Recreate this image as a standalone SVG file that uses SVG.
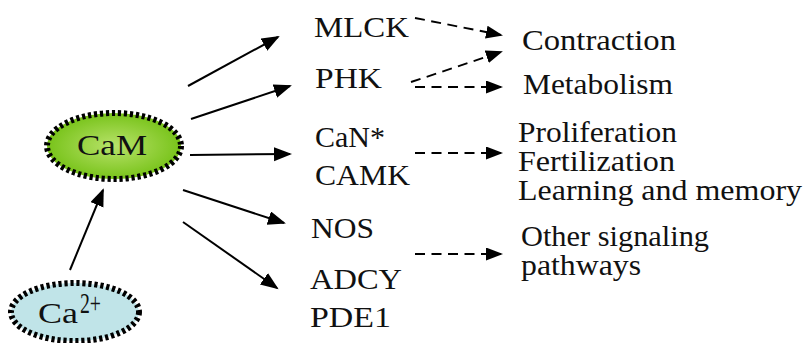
<svg xmlns="http://www.w3.org/2000/svg" width="805" height="343" viewBox="0 0 805 343">
  <style>
    .lbl { font-family: "Liberation Serif", "Times New Roman", serif; font-size: 29px; fill: #111; }
    .solid { stroke: #000; stroke-width: 2; fill: none; marker-end: url(#headSolid); }
    .dash { stroke: #000; stroke-width: 1.9; fill: none; stroke-dasharray: 10 6.5; marker-end: url(#headDash); }
    .ring { stroke: #000; stroke-width: 6; stroke-dasharray: 3.2 2.8; }
  </style>
  <defs>
    <radialGradient id="camFill" cx="50%" cy="50%" r="50%">
      <stop offset="0" stop-color="#b8e26a"/>
      <stop offset="1" stop-color="#78c31a"/>
    </radialGradient>
    <marker id="headSolid" markerUnits="userSpaceOnUse" markerWidth="20" markerHeight="16" refX="16" refY="7" orient="auto">
      <path d="M0,0 L18,7 L0,14 Z" fill="#000"/>
    </marker>
    <marker id="headDash" markerUnits="userSpaceOnUse" markerWidth="20" markerHeight="16" refX="15" refY="6.5" orient="auto">
      <path d="M0,0 L17,6.5 L0,13 Z" fill="#000"/>
    </marker>
  </defs>

  <!-- connectors -->
  <g id="connectors">
    <line class="solid" x1="70" y1="270" x2="103" y2="190"/>
    <line class="solid" x1="188" y1="86" x2="278" y2="37"/>
    <line class="solid" x1="191" y1="119" x2="290" y2="86"/>
    <line class="solid" x1="190" y1="155" x2="290" y2="154"/>
    <line class="solid" x1="183" y1="190" x2="284" y2="223"/>
    <line class="solid" x1="183" y1="222" x2="277" y2="288"/>

    <line class="dash" x1="415" y1="18" x2="501" y2="35"/>
    <line class="dash" x1="411" y1="82" x2="501" y2="52"/>
    <line class="dash" x1="415" y1="87" x2="501" y2="87"/>
    <line class="dash" x1="415" y1="153" x2="501" y2="153"/>
    <line class="dash" x1="415" y1="254" x2="501" y2="254"/>
  </g>

  <!-- source ion -->
  <g id="ca">
    <ellipse class="ring" cx="75" cy="312" rx="64" ry="29" fill="#c0e4e8"/>
    <text class="lbl" x="38" y="323" font-size="31" textLength="40" lengthAdjust="spacingAndGlyphs">Ca</text>
    <text class="lbl" x="80" y="313" font-size="20" textLength="21" lengthAdjust="spacingAndGlyphs">2+</text>
  </g>

  <!-- calmodulin -->
  <g id="cam">
    <ellipse class="ring" cx="114" cy="146" rx="67" ry="33" fill="url(#camFill)"/>
    <text class="lbl" x="77" y="155" font-size="31" textLength="70" lengthAdjust="spacingAndGlyphs">CaM</text>
  </g>

  <!-- targets -->
  <g id="mlck"><text class="lbl" x="314" y="37" textLength="95" lengthAdjust="spacingAndGlyphs">MLCK</text></g>
  <g id="phk"><text class="lbl" x="315" y="88" textLength="67" lengthAdjust="spacingAndGlyphs">PHK</text></g>
  <g id="can-camk">
    <text class="lbl" x="315" y="147" textLength="70" lengthAdjust="spacingAndGlyphs">CaN*</text>
    <text class="lbl" x="315" y="185" textLength="95" lengthAdjust="spacingAndGlyphs">CAMK</text>
  </g>
  <g id="nos"><text class="lbl" x="311" y="238" textLength="63" lengthAdjust="spacingAndGlyphs">NOS</text></g>
  <g id="adcy-pde1">
    <text class="lbl" x="310" y="289" textLength="92" lengthAdjust="spacingAndGlyphs">ADCY</text>
    <text class="lbl" x="310" y="327" textLength="81" lengthAdjust="spacingAndGlyphs">PDE1</text>
  </g>

  <!-- outcomes -->
  <g id="contraction"><text class="lbl" x="522" y="50" textLength="154" lengthAdjust="spacingAndGlyphs">Contraction</text></g>
  <g id="metabolism"><text class="lbl" x="523" y="94" textLength="150" lengthAdjust="spacingAndGlyphs">Metabolism</text></g>
  <g id="cell-functions">
    <text class="lbl" x="518" y="142" textLength="159" lengthAdjust="spacingAndGlyphs">Proliferation</text>
    <text class="lbl" x="518" y="171" textLength="157" lengthAdjust="spacingAndGlyphs">Fertilization</text>
    <text class="lbl" x="518" y="200" textLength="284" lengthAdjust="spacingAndGlyphs">Learning and memory</text>
  </g>
  <g id="other">
    <text class="lbl" x="521" y="246" textLength="188" lengthAdjust="spacingAndGlyphs">Other signaling</text>
    <text class="lbl" x="521" y="275" textLength="120" lengthAdjust="spacingAndGlyphs">pathways</text>
  </g>
</svg>
